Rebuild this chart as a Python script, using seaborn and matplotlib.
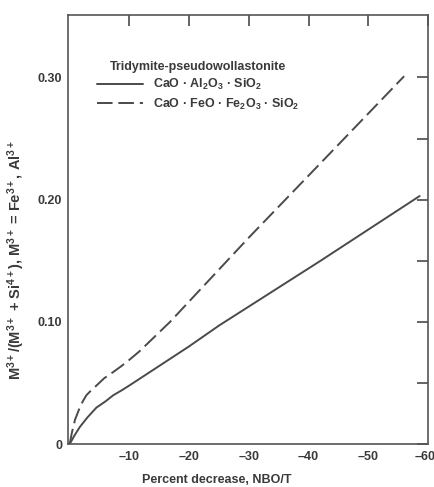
import matplotlib
matplotlib.use("Agg")
import matplotlib.pyplot as plt
import matplotlib.ticker as mticker
import matplotlib.transforms as mtransforms
import pandas as pd
import seaborn as sns

# Percent decrease of NBO/T and the M3+/(M3+ + Si4+) ratio for each system
al_x = [0, -0.8, -1.7, -3.0, -4.5, -6.0, -7.3, -8.7, -10, -12.5, -15, -20, -25, -42, -58.6]
al_y = [0, 0.007, 0.014, 0.022, 0.030, 0.035, 0.040, 0.044, 0.048, 0.056, 0.064, 0.080, 0.097, 0.150, 0.203]

fe_x = [0, -0.4, -0.9, -1.3, -1.7, -2.2, -2.8, -3.6, -4.5, -5.8, -7.3, -8.7, -10, -11.7, -13.4, -16.8, -30, -44, -56]
fe_y = [0, 0.010, 0.020, 0.025, 0.030, 0.035, 0.040, 0.044, 0.048, 0.054, 0.059, 0.064, 0.069, 0.076, 0.084, 0.100, 0.169, 0.240, 0.301]

series_al = "CaO · Al$_2$O$_3$ · SiO$_2$"
series_fe = "CaO · FeO · Fe$_2$O$_3$ · SiO$_2$"
legend_title = "Tridymite-pseudowollastonite"

x_ticks = [-10, -20, -30, -40, -50, -60]
y_major = [0, 0.10, 0.20, 0.30]
y_labels = ["0", "0.10", "0.20", "0.30"]
y_minor = [0.05, 0.15, 0.25]

df = pd.concat([
    pd.DataFrame({"x": al_x, "y": al_y, "system": series_al}),
    pd.DataFrame({"x": fe_x, "y": fe_y, "system": series_fe}),
], ignore_index=True)

ink = "#3a3a3a"
sns.set_theme(style="white")
plt.rcParams.update({
    "font.family": ["Liberation Sans", "DejaVu Sans"],
    "font.weight": "bold",
    "mathtext.fontset": "custom",
    "mathtext.rm": "Liberation Sans:bold",
    "mathtext.it": "Liberation Sans:italic:bold",
    "mathtext.bf": "Liberation Sans:bold",
    "mathtext.default": "rm",
    "text.color": ink,
    "axes.labelcolor": ink,
    "xtick.color": ink,
    "ytick.color": ink,
})

fig = plt.figure(figsize=(4.35, 4.87), dpi=100)
ax = fig.add_axes([0.156, 0.088, 0.828, 0.881])

sns.lineplot(
    data=df, x="x", y="y", hue="system", style="system",
    palette={series_al: "#4a4a4a", series_fe: "#4a4a4a"},
    dashes={series_al: "", series_fe: (8, 3)},
    linewidth=1.4, ax=ax, sort=False, estimator=None,
)

ax.set_xlim(0.3, -60)
ax.set_ylim(0, 0.351)

ax.set_xticks(x_ticks)
ax.set_xticklabels([f"\u2013{abs(v)}" for v in x_ticks])
ax.set_yticks(y_major)
ax.set_yticklabels(y_labels)
ax.yaxis.set_minor_locator(mticker.FixedLocator(y_minor))

ax.tick_params(axis="both", which="both", direction="in", length=8, width=1.1,
               top=True, right=True, labelsize=9)
ax.tick_params(axis="x", which="major", pad=5)
ax.tick_params(axis="y", which="major", pad=4)
for lab in ax.get_xticklabels() + ax.get_yticklabels():
    lab.set_fontweight("bold")

# keep the last x tick label inside the canvas
last = ax.get_xticklabels()[-1]
last.set_transform(last.get_transform() +
                   mtransforms.ScaledTranslation(-3 / 100, 0, fig.dpi_scale_trans))

for sp in ax.spines.values():
    sp.set_color("#555555")
    sp.set_linewidth(1.2)

ax.set_xlabel("Percent decrease, NBO/T", fontsize=9, fontweight="bold")
ax.xaxis.set_label_coords(0.414, -0.07)
ax.set_ylabel("M$^{3+}$/(M$^{3+}$ + Si$^{4+}$), M$^{3+}$ = Fe$^{3+}$, Al$^{3+}$",
              fontsize=10.5, fontweight="bold")
ax.yaxis.set_label_coords(-0.113, 0.43)

handles, labels = ax.get_legend_handles_labels()
leg = ax.legend(handles, labels, title=legend_title, loc="upper left",
                bbox_to_anchor=(0.08, 0.894), frameon=False, fontsize=9,
                title_fontsize=9, handlelength=3.7, handletextpad=0.8,
                labelspacing=0.35, borderpad=0, borderaxespad=0)
leg.get_title().set_fontweight("bold")
for t in leg.get_texts():
    t.set_fontweight("bold")

fig.savefig("out.png", dpi=100, facecolor="white")
